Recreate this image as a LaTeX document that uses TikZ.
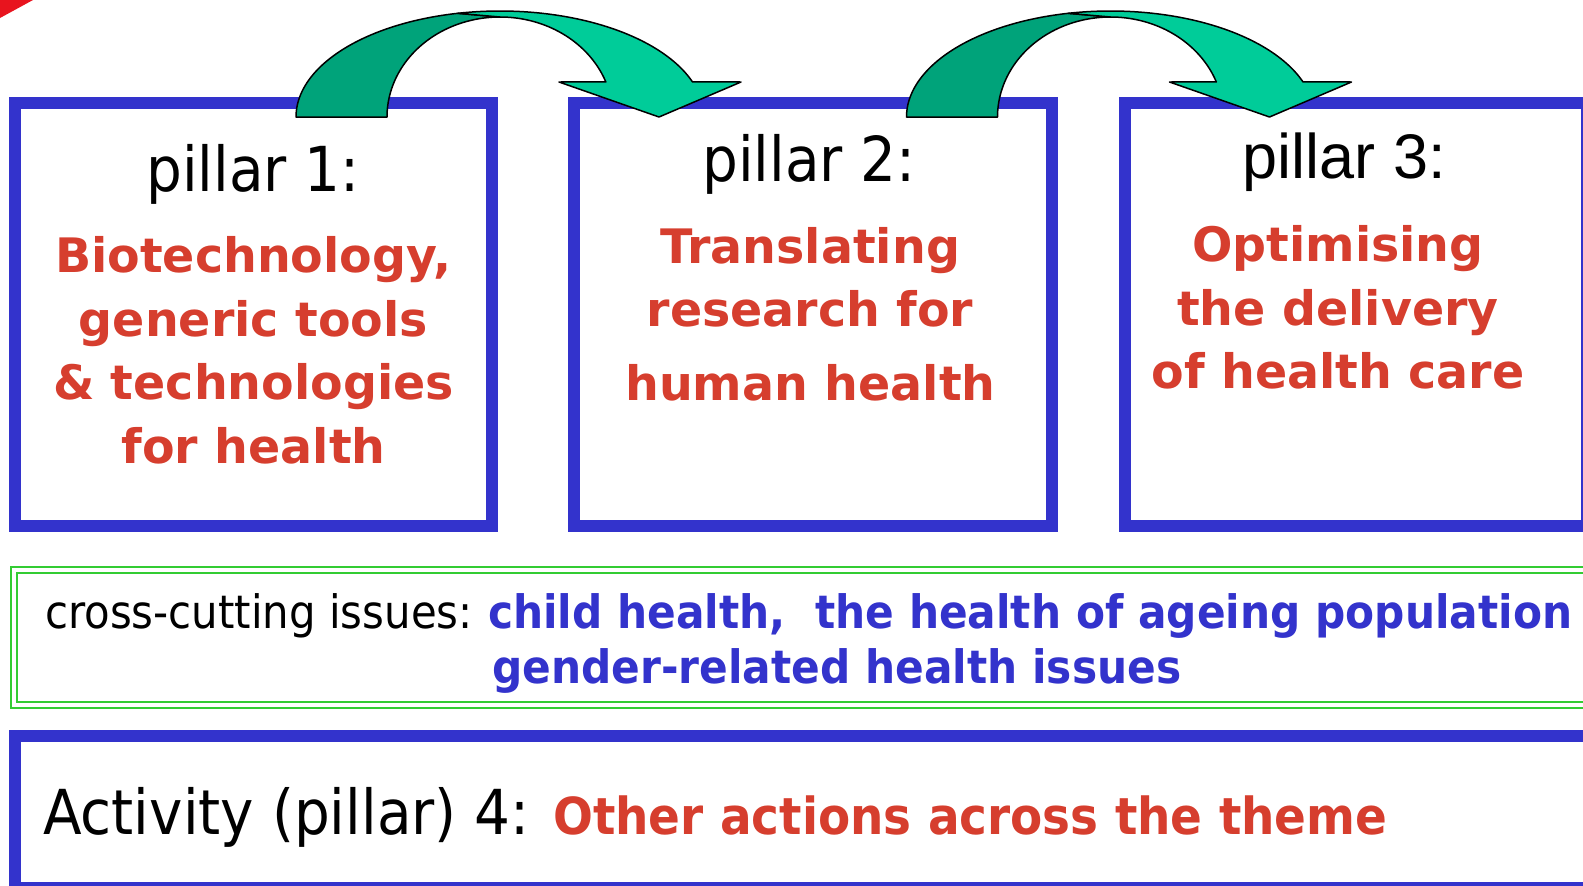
\documentclass[tikz,border=0pt]{standalone}
\usepackage{fontspec}
\setmainfont{DejaVu Sans}
\newfontfamily\tah[FakeStretch=0.91]{DejaVu Sans}
\newfontfamily\tahb[FakeStretch=0.92]{DejaVu Sans}
\newfontfamily\ari{Liberation Sans}
\definecolor{pblue}{RGB}{51,51,204}
\definecolor{pred}{RGB}{214,62,46}
\definecolor{pgreen}{RGB}{51,204,51}
\definecolor{adark}{RGB}{0,163,122}
\definecolor{alight}{RGB}{0,204,153}
\definecolor{cornerred}{RGB}{232,20,30}
\tikzset{
  pillarbox/.style={draw=pblue, line width=12pt, inner sep=0pt, outer sep=0pt},
  crossbox/.style={draw=pgreen, line width=2pt, double=white, double distance=4pt, inner sep=0pt, outer sep=0pt},
  pilltxt/.style={inner sep=0pt, anchor=base, text=black, font=\tah\fontsize{62}{62}\selectfont},
  redtxt/.style={inner sep=0pt, anchor=base, text=pred, font=\bfseries\fontsize{47.5}{47.5}\selectfont},
  bluetxt/.style={inner sep=0pt, anchor=base west, text=pblue, font=\tahb\bfseries\fontsize{46}{46}\selectfont},
  arrowdark/.style={fill=adark, draw=black, line width=1.5pt, line join=round},
  arrowlight/.style={fill=alight, draw=black, line width=1.5pt, line join=round},
  curvarrow/.pic={
    \path[arrowdark] plot[domain=180:102,samples=50] ({204*cos(\x)},{-106*sin(\x)})
      -- plot[domain=90:180,samples=50] ({113*cos(\x)},{-100*sin(\x)}) -- cycle;
    \path[arrowlight] plot[domain=102:19.3,samples=60] ({204*cos(\x)},{-106*sin(\x)})
      -- (241,-35) -- (159,0) -- (59,-35)
      -- plot[domain=20.5:90,samples=50] ({113*cos(\x)},{-100*sin(\x)}) -- cycle;
  }
}
\begin{document}
\begin{tikzpicture}[x=1pt,y=-1pt]
\useasboundingbox (0,0) rectangle (1583,886);
\clip (0,0) rectangle (1583,886);
\fill[cornerred] (0,0) -- (33,0) -- (0,18) -- cycle;
% pillar boxes
\node[pillarbox, minimum width=477pt, minimum height=423pt] (b1) at (253.5,314.5) {};
\node[pillarbox, minimum width=478pt, minimum height=423pt] (b2) at (813,314.5) {};
\node[pillarbox, minimum width=462pt, minimum height=423pt] (b3) at (1356,314.5) {};
% cross-cutting box
\node[crossbox, minimum width=1636.5pt, minimum height=135pt] (cc) at (831.75,637.5) {};
% activity 4 box
\node[pillarbox, minimum width=1635pt, minimum height=152pt] (b4) at (832.5,812) {};
% curved arrows
\pic at (500,117) {curvarrow};
\pic at (1110.5,117) {curvarrow};
% pillar 1
\node[pilltxt] (t1) at (253,191) {pillar 1:};
\node[redtxt] (t1a) at (253.5,272.7) {Biotechnology,};
\node[redtxt] (t1b) at (253.5,336.7) {generic tools};
\node[redtxt] (t1c) at (253.5,399.3) {\& technologies};
\node[redtxt] (t1d) at (253.5,463.3) {for health};
% pillar 2
\node[pilltxt] (t2) at (809,181) {pillar 2:};
\node[redtxt] (t2a) at (810,263.3) {Translating};
\node[redtxt] (t2b) at (810,326.7) {research for};
\node[redtxt] (t2c) at (810.5,400) {human health};
% pillar 3
\node[pilltxt, font=\ari\fontsize{63}{63}\selectfont] (t3) at (1344.5,178.3) {pillar 3:};
\node[redtxt] (t3a) at (1338,261.7) {Optimising};
\node[redtxt] (t3b) at (1338,325) {the delivery};
\node[redtxt] (t3c) at (1338,388.3) {of health care};
% cross-cutting
\node[pilltxt, anchor=base west, font=\tah\fontsize{46}{46}\selectfont] (cct) at (45,628.3) {cross-cutting issues:};
\node[bluetxt] (ccb1) at (488,628.3) {child health,\ \ the health of ageing population};
\node[bluetxt] (ccb2) at (492,683.5) {gender-related health issues};
% activity 4
\node[pilltxt, anchor=base west, font=\tah\fontsize{62}{62}\selectfont] (a4) at (43,834) {Activity (pillar) 4:};
\node[redtxt, anchor=base west, font=\tahb\bfseries\fontsize{51}{51}\selectfont] (a4r) at (553,834) {Other actions across the theme};
\end{tikzpicture}
\end{document}
